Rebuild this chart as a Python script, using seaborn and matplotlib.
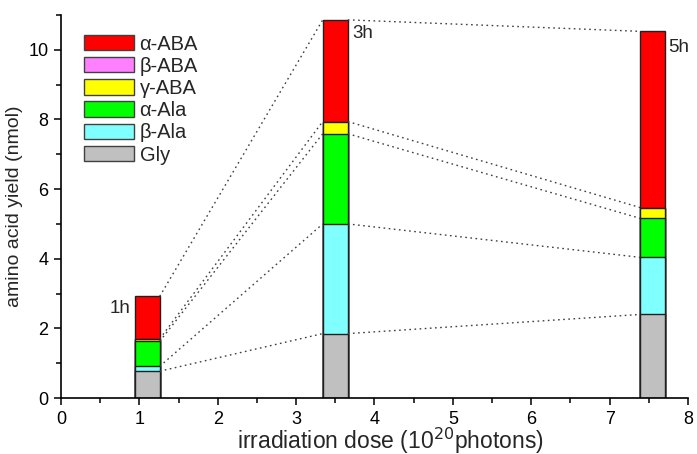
import matplotlib
matplotlib.use("Agg")
import matplotlib.pyplot as plt
from matplotlib.patches import Patch
from matplotlib.ticker import MultipleLocator
import numpy as np
import pandas as pd
import seaborn as sns

# ---- data ----
doses = [1.1, 3.5, 7.55]
hour_labels = ["1h", "3h", "5h"]
species = ["α-ABA", "β-ABA", "γ-ABA", "α-Ala", "β-Ala", "Gly"]   # legend order (top of stack first)
gly = [0.77, 1.85, 2.40]
beta_ala = [0.14, 3.15, 1.64]
alpha_ala = [0.72, 2.59, 1.12]
gamma_aba = [0.07, 0.35, 0.31]
beta_aba = [0.0, 0.0, 0.0]
alpha_aba = [1.22, 2.92, 5.06]
colors = ["#FF0000", "#FF80FF", "#FFFF00", "#00FF00", "#80FFFF", "#C0C0C0"]

sns.set_theme(style="ticks")
plt.rcParams["font.family"] = ["Liberation Sans", "DejaVu Sans"]

fig = plt.figure(figsize=(6.97, 4.54), dpi=100)
ax = fig.add_axes([0.0875, 0.1233, 0.8995, 0.8437])

# stack from bottom: Gly, β-Ala, α-Ala, γ-ABA, β-ABA, α-ABA
stack = [gly, beta_ala, alpha_ala, gamma_aba, beta_aba, alpha_aba]
stack_cols = colors[::-1]
cum = np.cumsum(np.array(stack), axis=0)  # cumulative tops per layer

bar_w = 0.32
spacing = min(np.diff(sorted(doses)))
edge = "#202020"

# draw from the top layer down so the lower segments overlay
for i in range(len(stack) - 1, -1, -1):
    df = pd.DataFrame({"dose": doses, "top": cum[i]})
    sns.barplot(data=df, x="dose", y="top", native_scale=True, color=stack_cols[i],
                saturation=1, width=bar_w / spacing, errorbar=None,
                edgecolor=edge, linewidth=1.0, ax=ax)

# dotted connectors between bars at each boundary
boundaries = [cum[0], cum[1], cum[2], cum[3], cum[5]]
for b in boundaries:
    for j in range(len(doses) - 1):
        ax.plot([doses[j] + bar_w / 2, doses[j + 1] - bar_w / 2], [b[j], b[j + 1]],
                linestyle=(0, (1.2, 2.5)), color="#404040", linewidth=1.0, zorder=1)

# hour labels
ax.text(doses[0] - bar_w / 2 - 0.05, cum[5][0] - 0.35, hour_labels[0], ha="right",
        va="center", fontsize=13.5)
ax.text(doses[1] + bar_w / 2 + 0.06, cum[5][1] - 0.4, hour_labels[1], ha="left",
        va="center", fontsize=13.5)
ax.text(doses[2] + bar_w / 2 + 0.04, cum[5][2] - 0.47, hour_labels[2], ha="left",
        va="center", fontsize=13.5)

ax.set_xlim(0, 8)
ax.set_ylim(0, 11)
ax.xaxis.set_major_locator(MultipleLocator(1))
ax.xaxis.set_minor_locator(MultipleLocator(0.5))
ax.yaxis.set_major_locator(MultipleLocator(2))
ax.yaxis.set_minor_locator(MultipleLocator(1))
ax.set_xticks(range(0, 9))
ax.set_xticklabels([str(v) for v in range(0, 9)])
ax.tick_params(which="major", direction="out", length=5, width=1.1, labelsize=13,
               color="black", labelcolor="black")
ax.tick_params(axis="x", which="major", pad=4)
ax.tick_params(axis="y", which="major", pad=4)
ax.tick_params(which="minor", direction="out", length=3.5, width=1.1, color="black")
for s in ["top", "right"]:
    ax.spines[s].set_visible(False)
for s in ["left", "bottom"]:
    ax.spines[s].set_color("black")
    ax.spines[s].set_linewidth(1.2)

ax.set_xlabel("irradiation dose (10$^{20}$photons)", fontsize=16.5, va="baseline")
ax.xaxis.set_label_coords(0.526, -0.134)
ax.set_ylabel("amino acid yield (nmol)", fontsize=14, labelpad=4)
ax.set_facecolor("white")
fig.patch.set_facecolor("white")

handles = [Patch(facecolor=c, edgecolor="#404040", linewidth=1.0) for c in colors]
ax.legend(handles, species, loc="upper left", bbox_to_anchor=(0.037, 0.949),
          frameon=False, fontsize=14.5, handlelength=2.45, handleheight=0.8,
          labelspacing=0.16, handletextpad=0.3, borderaxespad=0, borderpad=0)

fig.savefig("out.png", dpi=100, facecolor="white")
